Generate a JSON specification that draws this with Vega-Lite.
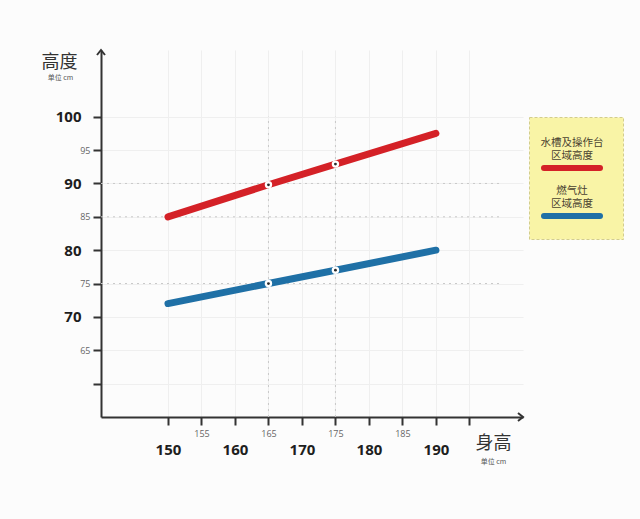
{
  "$schema": "https://vega.github.io/schema/vega-lite/v6.json",
  "width": 422,
  "height": 367,
  "autosize": {"type": "none"},
  "padding": {"left": 101, "top": 50, "right": 117, "bottom": 102},
  "background": "#fcfcfc",
  "config": {"view": {"stroke": null}},
  "datasets": {
    "lines": [
      {"series": "水槽及操作台区域高度", "height": 150, "value": 85},
      {"series": "水槽及操作台区域高度", "height": 165, "value": 89.8},
      {"series": "水槽及操作台区域高度", "height": 175, "value": 92.9},
      {"series": "水槽及操作台区域高度", "height": 190, "value": 97.5},
      {"series": "燃气灶区域高度", "height": 150, "value": 72},
      {"series": "燃气灶区域高度", "height": 165, "value": 75},
      {"series": "燃气灶区域高度", "height": 175, "value": 77},
      {"series": "燃气灶区域高度", "height": 190, "value": 80}
    ],
    "hguides": [{"value": 90}, {"value": 85}, {"value": 75}],
    "vguides": [{"height": 165}, {"height": 175}]
  },
  "layer": [
    {
      "data": {"name": "hguides"},
      "mark": {"type": "rule", "color": "#c8c8c8", "strokeWidth": 1, "strokeDash": [2, 4]},
      "encoding": {
        "x": {"datum": 140, "type": "quantitative", "axis": null},
        "x2": {"datum": 200},
        "y": {"field": "value", "type": "quantitative", "axis": null}
      }
    },
    {
      "data": {"name": "vguides"},
      "mark": {"type": "rule", "color": "#c8c8c8", "strokeWidth": 1, "strokeDash": [2, 4]},
      "encoding": {
        "x": {"field": "height", "type": "quantitative", "axis": null},
        "y": {"datum": 55, "type": "quantitative", "axis": null},
        "y2": {"datum": 100}
      }
    },
    {
      "data": {"name": "lines"},
      "mark": {"type": "line", "strokeWidth": 7, "strokeCap": "round"},
      "encoding": {
        "x": {
          "field": "height",
          "type": "quantitative",
          "scale": {"domain": [140, 203], "nice": false, "zero": false},
          "axis": {
            "orient": "bottom",
            "values": [150, 155, 160, 165, 170, 175, 180, 185, 190, 195],
            "labelExpr": "datum.value == 195 ? '' : datum.label",
            "labelFont": "Open Sans",
            "labelFontSize": {"condition": {"test": "datum.value % 10 === 0", "value": 15}, "value": 9},
            "labelFontWeight": {"condition": {"test": "datum.value % 10 === 0", "value": "bold"}, "value": "normal"},
            "labelColor": {"condition": {"test": "datum.value % 10 === 0", "value": "#1e1e1e"}, "value": "#666666"},
            "labelPadding": {"condition": {"test": "datum.value % 10 === 0", "value": 17}, "value": 4},
            "labelOverlap": false,
            "labelFlush": false,
            "tickSize": 8,
            "tickWidth": 2,
            "tickColor": "#333333",
            "domainColor": "#333333",
            "domainWidth": 2,
            "grid": true,
            "gridColor": "#efefef",
            "title": "身高",
            "titleFont": "Noto Sans CJK SC",
            "titleFontSize": 18,
            "titleFontWeight": "normal",
            "titleColor": "#333333",
            "titleX": 392,
            "titleY": 26,
            "titleAlign": "center",
            "titleBaseline": "middle"
          }
        },
        "y": {
          "field": "value",
          "type": "quantitative",
          "scale": {"domain": [55, 110], "nice": false, "zero": false},
          "axis": {
            "orient": "left",
            "values": [60, 65, 70, 75, 80, 85, 90, 95, 100],
            "labelExpr": "datum.value == 60 ? '' : datum.label",
            "labelFont": "Open Sans",
            "labelFontSize": {"condition": {"test": "datum.value % 10 === 0", "value": 15}, "value": 9},
            "labelFontWeight": {"condition": {"test": "datum.value % 10 === 0", "value": "bold"}, "value": "normal"},
            "labelColor": {"condition": {"test": "datum.value % 10 === 0", "value": "#1e1e1e"}, "value": "#666666"},
            "labelPadding": {"condition": {"test": "datum.value % 10 === 0", "value": 12}, "value": 3},
            "labelOverlap": false,
            "labelFlush": false,
            "tickSize": 8,
            "tickWidth": 2,
            "tickColor": "#333333",
            "domainColor": "#333333",
            "domainWidth": 2,
            "grid": true,
            "gridColor": "#efefef",
            "title": "高度",
            "titleFont": "Noto Sans CJK SC",
            "titleFontSize": 18,
            "titleFontWeight": "normal",
            "titleColor": "#333333",
            "titleAngle": 0,
            "titleX": -42,
            "titleY": 12,
            "titleAlign": "center",
            "titleBaseline": "middle"
          }
        },
        "color": {
          "field": "series",
          "type": "nominal",
          "scale": {"domain": ["水槽及操作台区域高度", "燃气灶区域高度"], "range": ["#d42127", "#1f70a6"]},
          "legend": {
            "orient": "none",
            "legendX": 428,
            "legendY": 67,
            "title": " ",
            "titleFontSize": 6,
            "titlePadding": 4,
            "direction": "vertical",
            "fillColor": "#f9f4a6",
            "strokeColor": "#d2cd8c",
            "padding": 11,
            "rowPadding": 6,
            "symbolType": "stroke",
            "symbolSize": 3136,
            "symbolStrokeWidth": 6,
            "labelFont": "Noto Sans CJK SC",
            "labelFontSize": 10.5,
            "labelColor": "#4a4230",
            "labelLimit": 200,
            "labelExpr": "datum.value == '燃气灶区域高度' ? ['燃气灶', '区域高度'] : ['水槽及操作台', '区域高度']",
            "encode": {
              "labels": {"update": {"x": {"value": 32}, "y": {"value": 0}, "align": {"value": "center"}, "baseline": {"value": "top"}}},
              "symbols": {"update": {"x": {"value": 32}, "y": {"value": 30}, "strokeCap": {"value": "round"}}},
              "legend": {"update": {"strokeDash": {"value": [3, 2]}}}
            }
          }
        }
      }
    },
    {
      "data": {"name": "lines"},
      "transform": [{"filter": "datum.height == 165 || datum.height == 175"}],
      "mark": {"type": "point", "filled": true, "color": "#ffffff", "opacity": 1, "size": 55},
      "encoding": {
        "x": {
          "field": "height",
          "type": "quantitative",
          "axis": {
            "orient": "top",
            "domain": false,
            "ticks": false,
            "labels": false,
            "grid": false,
            "title": "单位 cm",
            "titleFont": "Noto Sans CJK SC",
            "titleFontSize": 7,
            "titleFontWeight": "normal",
            "titleColor": "#555555",
            "titleX": 392,
            "titleY": 411,
            "titleAlign": "center",
            "titleBaseline": "middle"
          }
        },
        "y": {
          "field": "value",
          "type": "quantitative",
          "axis": {
            "orient": "right",
            "domain": false,
            "ticks": false,
            "labels": false,
            "grid": false,
            "title": "单位 cm",
            "titleFont": "Noto Sans CJK SC",
            "titleFontSize": 7,
            "titleFontWeight": "normal",
            "titleColor": "#555555",
            "titleAngle": 0,
            "titleX": -463,
            "titleY": 27,
            "titleAlign": "center",
            "titleBaseline": "middle"
          }
        }
      }
    },
    {
      "data": {"name": "lines"},
      "transform": [{"filter": "datum.height == 165 || datum.height == 175"}],
      "mark": {"type": "point", "filled": true, "color": "#2a2a2a", "opacity": 1, "size": 8},
      "encoding": {
        "x": {"field": "height", "type": "quantitative", "axis": null},
        "y": {"field": "value", "type": "quantitative", "axis": null}
      }
    },
    {
      "data": {"values": [{}]},
      "mark": {"type": "point", "shape": "M-1,-0.8L0,0L-1,0.8", "filled": false, "color": "#333333", "strokeWidth": 2, "size": 100, "opacity": 1},
      "encoding": {
        "x": {"datum": 203, "type": "quantitative", "axis": null},
        "y": {"datum": 55, "type": "quantitative", "axis": null}
      }
    },
    {
      "data": {"values": [{}]},
      "mark": {"type": "point", "shape": "M-0.8,1L0,0L0.8,1", "filled": false, "color": "#333333", "strokeWidth": 2, "size": 100, "opacity": 1},
      "encoding": {
        "x": {"datum": 140, "type": "quantitative", "axis": null},
        "y": {"datum": 110, "type": "quantitative", "axis": null}
      }
    }
  ],
  "resolve": {"axis": {"x": "independent", "y": "independent"}}
}
